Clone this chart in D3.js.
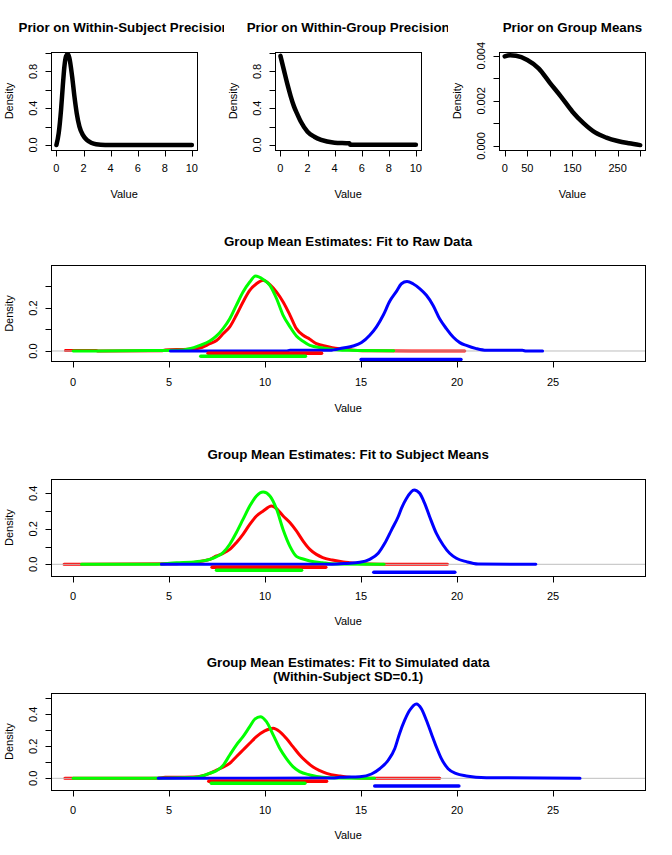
<!DOCTYPE html>
<html><head><meta charset="utf-8">
<script src="https://cdn.jsdelivr.net/npm/d3@7/dist/d3.min.js"></script>
<style>
body{margin:0;background:#fff}
svg{display:block}
text{font-family:"Liberation Sans",Arial,Helvetica,sans-serif;fill:#000}
</style>
</head><body>
<svg id="chart" width="672" height="855"></svg>
<script>
// ---------------- DATA ----------------
// Top row priors: [value, density]
const priorWithinSubject = [[0,0],[0.17,0.13],[0.34,0.38],[0.47,0.64],[0.59,0.855],[0.71,0.965],[0.84,0.99],[0.96,0.945],[1.16,0.745],[1.33,0.527],[1.5,0.345],[1.7,0.2],[1.95,0.11],[2.24,0.055],[2.56,0.025],[2.93,0.008],[3.6,0.001],[10,0]];
const priorWithinGroup = [[0,0.97],[0.25,0.82],[0.5,0.67],[0.76,0.53],[1,0.42],[1.26,0.33],[1.5,0.255],[2,0.145],[2.5,0.09],[3,0.055],[4,0.025],[5.1,0.018],[5.15,0.003],[10,0.003]];
const priorGroupMeans = [[0,0.00397],[12,0.00402],[25,0.004],[50,0.00381],[75,0.00344],[100,0.0028],[125,0.00218],[150,0.00152],[175,0.001],[200,0.0006],[225,0.00037],[250,0.00022],[275,0.00012],[300,0.00004]];

// Fit to raw data
const rawRed = [[-0.4,0.002],[1.2,0.002],[1.3,0.0005],[4.6,0.001],[4.8,0.005],[6.0,0.008],[6.6,0.014],[7.12,0.034],[7.47,0.049],[7.81,0.08],[8.16,0.112],[8.5,0.166],[8.85,0.228],[9.2,0.282],[9.55,0.313],[9.9,0.329],[10.25,0.309],[10.6,0.274],[10.94,0.228],[11.3,0.166],[11.63,0.104],[11.98,0.073],[12.33,0.055],[12.67,0.034],[13.0,0.026],[13.5,0.015],[14.07,0.009],[14.6,0.004],[15.5,0.001],[20.4,0]];
const rawGreen = [[0,0],[4,0.002],[5.73,0.005],[6.6,0.026],[7.12,0.046],[7.47,0.07],[7.81,0.104],[8.16,0.15],[8.5,0.212],[8.85,0.274],[9.2,0.321],[9.5,0.349],[9.9,0.333],[10.25,0.305],[10.6,0.243],[10.94,0.166],[11.3,0.112],[11.63,0.07],[11.98,0.045],[12.33,0.026],[13.0,0.014],[13.7,0.006],[14.4,0.003],[16.7,0.001]];
const rawBlue = [[5.07,0],[11.1,0.0005],[11.3,0.003],[13.37,0.003],[14.06,0.014],[14.58,0.023],[15.02,0.039],[15.45,0.073],[15.8,0.112],[16.15,0.166],[16.49,0.231],[16.84,0.277],[17.1,0.313],[17.39,0.323],[17.7,0.313],[18.05,0.29],[18.4,0.259],[18.75,0.212],[19.09,0.15],[19.44,0.104],[19.79,0.065],[20.14,0.039],[20.48,0.026],[21.0,0.011],[21.52,0.003],[23.4,0.003],[23.6,0],[24.45,0]];
const rawHdi = [[7.03,12.94,-0.01],[6.65,12.1,-0.025],[15.0,20.2,-0.039]];

// Fit to subject means
const subRed = [[-0.47,0],[0.44,0],[5.39,0.003],[5.8,0.006],[7.12,0.028],[7.47,0.047],[7.81,0.062],[8.16,0.084],[8.5,0.122],[8.85,0.169],[9.2,0.225],[9.55,0.272],[9.9,0.3],[10.33,0.328],[10.6,0.313],[10.94,0.272],[11.3,0.234],[11.63,0.188],[11.98,0.131],[12.33,0.084],[12.67,0.056],[13.0,0.038],[13.5,0.024],[14.07,0.013],[14.4,0.009],[15,0.003],[16,0.001],[19.5,0]];
const subGreen = [[0.44,0],[4.0,0],[5.39,0.009],[6.43,0.015],[7.12,0.028],[7.47,0.043],[7.81,0.066],[8.16,0.113],[8.5,0.178],[8.85,0.253],[9.2,0.328],[9.55,0.385],[9.9,0.407],[10.25,0.385],[10.6,0.31],[10.94,0.195],[11.3,0.1],[11.63,0.045],[11.98,0.03],[12.33,0.019],[13.0,0.009],[13.7,0.002],[16.2,0]];
const subBlue = [[4.6,0],[13.5,0.001],[14.24,0.005],[14.93,0.011],[15.45,0.028],[15.89,0.062],[16.23,0.118],[16.58,0.193],[16.93,0.268],[17.1,0.315],[17.36,0.371],[17.76,0.419],[18.05,0.4],[18.31,0.343],[18.57,0.268],[18.92,0.174],[19.27,0.109],[19.61,0.062],[19.96,0.034],[20.48,0.015],[21.09,0.002],[24.1,0]];
const subHdi = [[7.24,13.16,-0.016],[7.47,11.9,-0.034],[15.66,19.88,-0.045]];

// Fit to simulated data
const simRed = [[-0.43,0.001],[4.4,0.001],[4.8,0.006],[6.3,0.008],[7.12,0.031],[7.47,0.052],[7.81,0.069],[8.16,0.094],[8.5,0.135],[8.85,0.177],[9.2,0.219],[9.55,0.26],[9.98,0.296],[10.42,0.313],[10.76,0.292],[11.1,0.25],[11.45,0.198],[11.8,0.146],[12.15,0.104],[12.5,0.07],[12.85,0.048],[13.2,0.031],[13.9,0.014],[14.5,0.005],[15.5,0.001],[19.1,0]];
const simGreen = [[0,0],[4,0],[6.25,0.005],[6.77,0.016],[7.12,0.032],[7.47,0.047],[7.81,0.08],[8.16,0.146],[8.5,0.208],[8.85,0.26],[9.2,0.323],[9.46,0.369],[9.75,0.385],[10.07,0.354],[10.42,0.271],[10.76,0.188],[11.1,0.125],[11.45,0.073],[11.8,0.042],[12.33,0.021],[13.0,0.006],[13.8,0.002],[15.7,0]];
const simBlue = [[4.43,0],[13.5,0.002],[13.89,0.006],[14.93,0.01],[15.54,0.027],[15.97,0.06],[16.41,0.113],[16.75,0.185],[17.0,0.279],[17.27,0.363],[17.53,0.425],[17.88,0.465],[18.14,0.435],[18.4,0.363],[18.66,0.279],[18.92,0.196],[19.18,0.123],[19.53,0.06],[19.96,0.029],[20.48,0.015],[21.52,0.004],[26.4,0]];
const simHdi = [[7.07,13.2,-0.018],[7.2,12.07,-0.031],[15.71,20.09,-0.048]];

// Ticks and labels
const xTicksPrec = [0,2,4,6,8,10];
const xLabelsPrec = ["0","2","4","6","8","10"];
const yTicksPrec = [0,0.2,0.4,0.6,0.8,1.0];
const yLabelsPrec = ["0.0","","0.4","","0.8",""];
const xTicksMeans = [0,50,100,150,200,250,300];
const xLabelsMeans = ["0","50","","150","","250",""];
const yTicksMeans = [0,0.001,0.002,0.003,0.004];
const yLabelsMeans = ["0.000","","0.002","","0.004"];
const xTicksEst = [0,5,10,15,20,25];
const xLabelsEst = ["0","5","10","15","20","25"];
const yTicksRaw = [0,0.1,0.2,0.3];
const yLabelsRaw = ["0.0","","0.2",""];
const yTicksSub = [0,0.1,0.2,0.3,0.4];
const yLabelsSub = ["0.0","","0.2","","0.4"];
const yTicksSim = [0,0.1,0.2,0.3,0.4,0.5];
const yLabelsSim = ["0.0","","0.2","","0.4",""];

const titles = [
  ["Prior on Within-Subject Precision"],
  ["Prior on Within-Group Precision"],
  ["Prior on Group Means"],
  ["Group Mean Estimates: Fit to Raw Data"],
  ["Group Mean Estimates: Fit to Subject Means"],
  ["Group Mean Estimates: Fit to Simulated data","(Within-Subject SD=0.1)"]
];
const seriesColors = ["#FF0000","#00FF00","#0000FF"];

// ---------------- LAYOUT ----------------
const svg = d3.select("#chart");
svg.append("rect").attr("width",672).attr("height",855).attr("fill","#fff");

const panels = [
  {fig:[0,224], box:[51,52,146.3,98], xd:[-0.4,10.4], yd:[-0.0546,1.012], xt:xTicksPrec, xl:xLabelsPrec, yt:yTicksPrec, yl:yLabelsPrec,
   series:[priorWithinSubject], colors:["#000"], lw:4.5, title:titles[0], titleY:[31.5], tickY:172, labY:197.5},
  {fig:[224,448], box:[275,52,146.3,98], xd:[-0.4,10.4], yd:[-0.0546,1.012], xt:xTicksPrec, xl:xLabelsPrec, yt:yTicksPrec, yl:yLabelsPrec,
   series:[priorWithinGroup], colors:["#000"], lw:4.5, title:titles[1], titleY:[31.5], tickY:172, labY:197.5},
  {fig:[448,672], box:[499.3,52,146.3,98], xd:[-12,312], yd:[-0.000177,0.004164], xt:xTicksMeans, xl:xLabelsMeans, yt:yTicksMeans, yl:yLabelsMeans,
   series:[priorGroupMeans], colors:["#000"], lw:4.5, title:titles[2], titleY:[31.5], tickY:172, labY:197.5},
  {fig:[0,672], box:[51,265.3,594.3,96.4], xd:[-1.15,29.8], yd:[-0.0498,0.3986], xt:xTicksEst, xl:xLabelsEst, yt:yTicksRaw, yl:yLabelsRaw,
   series:[rawRed,rawGreen,rawBlue], colors:seriesColors, lw:3, hdi:rawHdi, title:titles[3], titleY:[246], tickY:385.5, labY:411.5},
  {fig:[0,672], box:[51,479.3,594.3,96.7], xd:[-1.15,29.8], yd:[-0.0659,0.479], xt:xTicksEst, xl:xLabelsEst, yt:yTicksSub, yl:yLabelsSub,
   series:[subRed,subGreen,subBlue], colors:seriesColors, lw:3, hdi:subHdi, title:titles[4], titleY:[459], tickY:600, labY:625},
  {fig:[0,672], box:[51,693.3,594.3,96.7], xd:[-1.15,29.8], yd:[-0.073,0.53125], xt:xTicksEst, xl:xLabelsEst, yt:yTicksSim, yl:yLabelsSim,
   series:[simRed,simGreen,simBlue], colors:seriesColors, lw:3, hdi:simHdi, title:titles[5], titleY:[667,680.5], tickY:814, labY:838.5}
];

const defs = svg.append("defs");

panels.forEach((p,i)=>{
  const [bx,by,bw,bh] = p.box;
  const x = d3.scaleLinear().domain(p.xd).range([bx,bx+bw]);
  const y = d3.scaleLinear().domain(p.yd).range([by+bh,by]);
  const g = svg.append("g");

  // clip for plot region and figure region
  defs.append("clipPath").attr("id","plot"+i).append("rect").attr("x",bx).attr("y",by).attr("width",bw).attr("height",bh);
  defs.append("clipPath").attr("id","fig"+i).append("rect").attr("x",p.fig[0]).attr("y",0).attr("width",p.fig[1]-p.fig[0]).attr("height",855);

  const plot = g.append("g").attr("clip-path","url(#plot"+i+")");
  const line = d3.line().x(d=>x(d[0])).y(d=>y(d[1])).curve(d3.curveMonotoneX);

  p.series.forEach((s,k)=>{
    plot.append("path").attr("d",line(s)).attr("fill","none")
      .attr("stroke",p.colors[k]).attr("stroke-width",p.lw)
      .attr("stroke-linecap","round").attr("stroke-linejoin","round");
    if(p.hdi && k===0){
      plot.append("line").attr("x1",bx).attr("x2",bx+bw).attr("y1",y(0)).attr("y2",y(0))
        .attr("stroke","#BEBEBE").attr("stroke-width",1);
    }
  });
  if(p.hdi){
    p.hdi.forEach((h,k)=>{
      plot.append("line").attr("x1",x(h[0])).attr("x2",x(h[1])).attr("y1",y(h[2])).attr("y2",y(h[2]))
        .attr("stroke",seriesColors[k]).attr("stroke-width",3.5).attr("stroke-linecap","round");
    });
  }

  // box
  g.append("rect").attr("x",Math.round(bx)+0.5).attr("y",Math.round(by)+0.5)
    .attr("width",Math.round(bw)).attr("height",Math.round(bh))
    .attr("fill","none").attr("stroke","#000").attr("stroke-width",1);
  const bottom = Math.round(by)+0.5+Math.round(bh);
  const left = Math.round(bx)+0.5;

  // x axis
  const xa = g.append("g");
  p.xt.forEach((t,k)=>{
    const px = Math.round(x(t))+0.5;
    xa.append("line").attr("x1",px).attr("x2",px).attr("y1",bottom).attr("y2",bottom+6).attr("stroke","#000");
    if(p.xl[k]) xa.append("text").attr("x",x(t)).attr("y",p.tickY).attr("text-anchor","middle").attr("font-size",11).text(p.xl[k]);
  });
  // y axis
  const ya = g.append("g");
  p.yt.forEach((t,k)=>{
    const py = Math.round(y(t))+0.5;
    ya.append("line").attr("x1",left-6).attr("x2",left).attr("y1",py).attr("y2",py).attr("stroke","#000");
    if(p.yl[k]) ya.append("text").attr("transform",`translate(${bx-14},${y(t)}) rotate(-90)`)
      .attr("text-anchor","middle").attr("font-size",11).text(p.yl[k]);
  });
  // axis titles
  g.append("text").attr("x",bx+bw/2).attr("y",p.labY).attr("text-anchor","middle").attr("font-size",11).text("Value");
  g.append("text").attr("transform",`translate(${bx-38},${by+bh/2}) rotate(-90)`)
    .attr("text-anchor","middle").attr("font-size",11).text("Density");
  // title
  const tg = g.append("g").attr("clip-path","url(#fig"+i+")");
  p.title.forEach((t,k)=>{
    tg.append("text").attr("x",bx+bw/2).attr("y",p.titleY[k]).attr("text-anchor","middle")
      .attr("font-size",13.3).attr("font-weight","bold").text(t);
  });
});
</script>
</body></html>
